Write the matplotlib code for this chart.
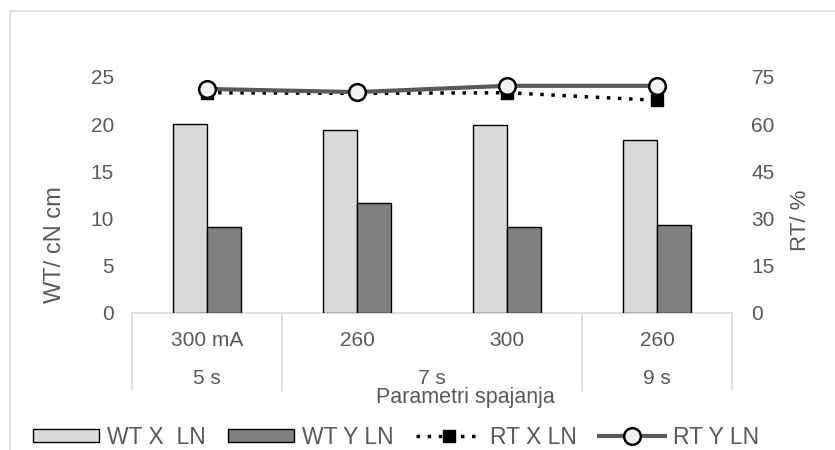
import numpy as np
import matplotlib.pyplot as plt
from matplotlib.lines import Line2D
from matplotlib.patches import Rectangle

plt.rcParams["font.family"] = ["Liberation Sans", "DejaVu Sans"]

# Data
current_labels = ["300 mA", "260", "300", "260"]
time_labels = ["5 s", "7 s", "9 s"]
time_spans = [1, 2, 1]  # how many categories each time group covers
wt_x = [20.0, 19.4, 19.9, 18.3]
wt_y = [9.1, 11.6, 9.1, 9.3]
rt_x = [70.0, 69.8, 70.0, 67.6]
rt_y = [71.2, 70.2, 72.2, 72.2]

text_col = "#595959"
axis_col = "#D9D9D9"
fs = 15

fig = plt.figure(figsize=(8.35, 4.5), dpi=100)
ax = fig.add_axes([132 / 835, 1 - 313 / 450, 600 / 835, 236 / 450])
ax2 = ax.twinx()

x = np.arange(len(current_labels))
w = 0.227

ax.bar(x - w / 2, wt_x, w, color="#D9D9D9", edgecolor="black", linewidth=1.0,
       label="WT X  LN", zorder=2)
ax.bar(x + w / 2, wt_y, w, color="#808080", edgecolor="black", linewidth=1.0,
       label="WT Y LN", zorder=2)

ax2.plot(x, rt_x, color="black", linestyle=(0, (1, 2.2)), linewidth=2.5,
         marker="s", markersize=8, markerfacecolor="black",
         markeredgecolor="black", label="RT X LN", zorder=3)
ax2.plot(x, rt_y, color="#595959", linewidth=3, marker="o", markersize=12,
         markerfacecolor="#F2F2F2", markeredgecolor="black",
         markeredgewidth=1.8, label="RT Y LN", zorder=4)

ax.set_xlim(-0.5, len(x) - 0.5)
ax.set_ylim(0, 25)
ax2.set_ylim(0, 75)
ax.set_yticks(np.arange(0, 26, 5))
ax2.set_yticks(np.arange(0, 76, 15))
ax.set_xticks([])

for a in (ax, ax2):
    for s in ("top", "left", "right", "bottom"):
        a.spines[s].set_visible(False)
ax.tick_params(axis="y", length=0, labelsize=fs, labelcolor=text_col, pad=13)
ax2.tick_params(axis="y", length=0, labelsize=fs, labelcolor=text_col, pad=14)

# axis baseline
ax.axhline(0, color=axis_col, linewidth=1.2, zorder=1, clip_on=False)

# axis titles
fig.text(55 / 835, 1 - 245 / 450, "WT/ cN cm", rotation=90, ha="center",
         va="center", fontsize=17, color=text_col)
fig.text(800 / 835, 1 - 220 / 450, "RT/ %", rotation=90, ha="center",
         va="center", fontsize=16, color=text_col)

# multi-level category axis drawn as text and divider lines
for i, lab in enumerate(current_labels):
    fig.text((132 + 150 * i + 75) / 835, 1 - 340 / 450, lab, ha="center",
             va="center", fontsize=fs, color=text_col)
edge = 0
bounds = [0]
for lab, span in zip(time_labels, time_spans):
    cx = (132 + 150 * (edge + span / 2)) / 835
    fig.text(cx, 1 - 378 / 450, lab, ha="center", va="center",
             fontsize=fs, color=text_col)
    edge += span
    bounds.append(edge)
for b in bounds:
    xx = (132 + 150 * b) / 835
    fig.add_artist(Line2D([xx, xx], [1 - 313 / 450, 1 - 390 / 450],
                          color=axis_col, linewidth=1.2))
fig.text(465 / 835, 1 - 398 / 450, "Parametri spajanja", ha="center",
         va="center", fontsize=15.5, color=text_col)

# chart border
fig.add_artist(Rectangle((10 / 835, -0.02), 1.0, 1 - 11 / 450 + 0.02,
                         transform=fig.transFigure, fill=False,
                         edgecolor=axis_col, linewidth=1.2))

h1, l1 = ax.get_legend_handles_labels()
h2, l2 = ax2.get_legend_handles_labels()
fig.legend(h1 + h2, l1 + l2, loc="center", bbox_to_anchor=(396 / 835, 1 - 437 / 450),
           ncol=4, frameon=False, fontsize=16.5, labelcolor=text_col,
           handlelength=2.9, handleheight=0.5, handletextpad=0.35,
           columnspacing=0.95, numpoints=1, borderpad=0)

fig.savefig("out.png", dpi=100)
